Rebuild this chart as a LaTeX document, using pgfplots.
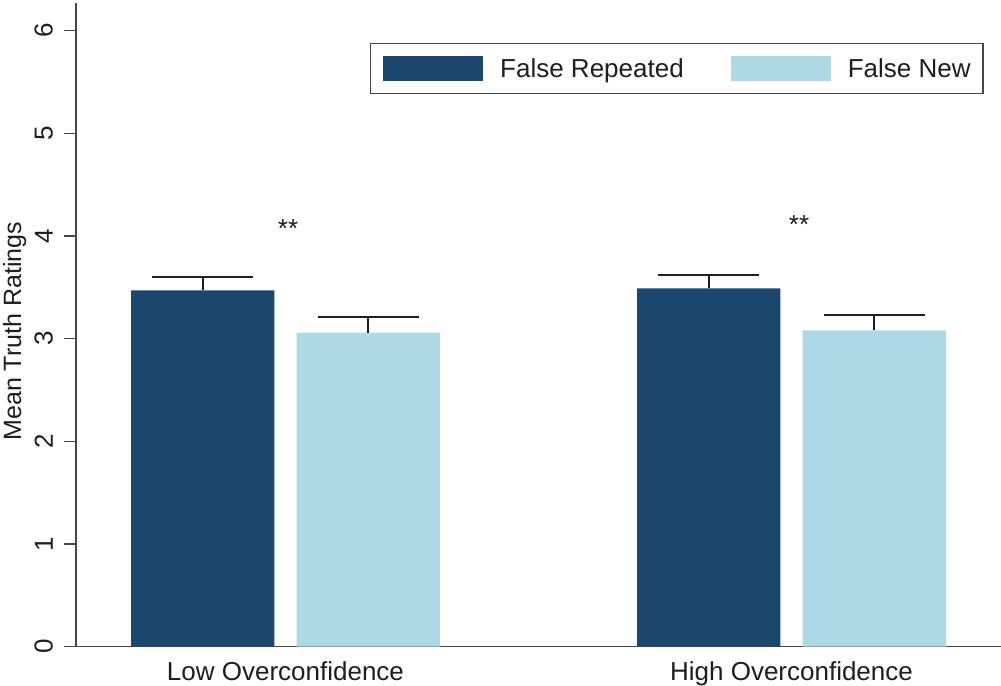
\documentclass[border=0pt]{standalone}
\usepackage{fontspec}
\setmainfont{Liberation Sans}
\usepackage{pgfplots}
\pgfplotsset{compat=1.18}
\definecolor{darkbar}{RGB}{27,70,110}
\definecolor{lightbar}{RGB}{173,216,230}
\definecolor{axisgray}{RGB}{70,70,70}
\definecolor{txt}{RGB}{30,30,30}
\newcommand{\bigfont}{\fontsize{26bp}{30bp}\selectfont}
\begin{document}
\begin{tikzpicture}[x=1bp,y=1bp]
\begin{axis}[
  at={(76bp,39.3bp)}, anchor=south west,
  scale only axis, width=925bp, height=643.7bp,
  xmin=-0.414, xmax=1.414, ymin=0, ymax=6.27,
  axis x line*=bottom, axis y line*=left,
  axis line style={axisgray, line width=1.5bp},
  xtick={0,1}, xticklabels={Low Overconfidence, High Overconfidence},
  xtick style={draw=none},
  ytick={0,1,2,3,4,5,6},
  ytick style={axisgray, line width=1.5bp},
  tick align=outside, major tick length=12bp,
  font=\bigfont,
  ticklabel style={font=\bigfont, text=txt},
  yticklabel style={rotate=90, anchor=south, inner xsep=0pt, inner ysep=11bp},
  xticklabel style={anchor=north, inner sep=0pt, yshift=-3bp},
  /pgf/number format/assume math mode=true,
  ylabel={Mean Truth Ratings},
  ylabel style={at={(axis description cs:-0.0535,0.49)}, anchor=south, inner sep=0pt, text=txt, font=\fontsize{25bp}{30bp}\selectfont},
  legend style={at={(0.3178,0.9379)}, anchor=north west, draw=axisgray, line width=1.5bp,
    font=\bigfont, text=txt, inner xsep=12.5bp, inner ysep=12.5bp, nodes={inner sep=0pt},
    /tikz/every odd column/.append style={column sep=17bp},
    /tikz/every even column/.append style={column sep=47bp}},
  legend columns=2,
]
\addplot[ybar, bar width=0.283, bar shift=0pt, fill=darkbar, draw=none,
  legend image code/.code={\fill[darkbar] (0bp,-12.2bp) rectangle (100bp,12.8bp);},
  error bars/.cd, y dir=plus, y explicit, error mark=-,
  error bar style={line width=2bp, txt},
  error mark options={rotate=90, line width=2bp, txt, mark size=50.5bp}]
  coordinates {(-0.1635,3.47) +- (0,0.13) (0.8365,3.49) +- (0,0.13)};
\addplot[ybar, bar width=0.283, bar shift=0pt, fill=lightbar, draw=none,
  legend image code/.code={\fill[lightbar] (0bp,-12.2bp) rectangle (100bp,12.8bp);},
  error bars/.cd, y dir=plus, y explicit, error mark=-,
  error bar style={line width=2bp, txt},
  error mark options={rotate=90, line width=2bp, txt, mark size=50.5bp}]
  coordinates {(0.1635,3.06) +- (0,0.15) (1.1635,3.08) +- (0,0.15)};
\addplot[draw=none, mark=none, nodes near coords={**},
  nodes near coords style={anchor=center, inner sep=0pt, font=\bigfont, text=txt}]
  coordinates {(0.005,4.07) (1.015,4.11)};
\legend{False Repeated, False New}
\end{axis}
\pgfresetboundingbox
\useasboundingbox (0,0) rectangle (1001,686);
\end{tikzpicture}
\end{document}
